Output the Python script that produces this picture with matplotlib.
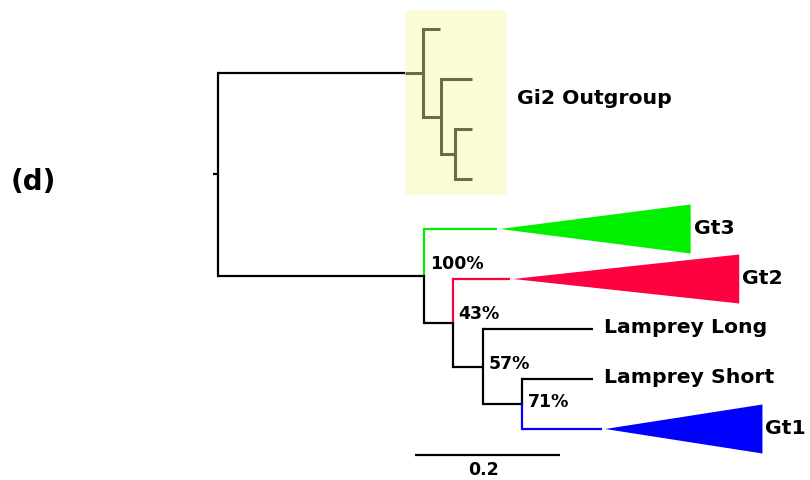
import matplotlib
matplotlib.use("Agg")
import matplotlib.pyplot as plt
from matplotlib.patches import Polygon, Rectangle

plt.rcParams['font.family'] = ['DejaVu Sans']

# ---- tree data: branch lengths (substitutions/site) ----
# Outgroup clade (Gi2): (leaf, (leaf, (leaf, leaf)))
root_stem = 0.007
outgroup_stem = 0.283
outgroup_inner = [0.025, 0.019]          # node A->B, B->C
outgroup_leaves = [0.023, 0.043, 0.023, 0.023]

# Ingroup
ingroup_stem = 0.284
ingroup_inner = [0.040, 0.041, 0.055]     # D->E, E->F, F->G
clade_names = ["Gt3", "Gt2", "Gt1"]
clade_stems = [0.101, 0.079, 0.110]
clade_depths = [0.263, 0.312, 0.217]
lamprey_names = ["Lamprey Long", "Lamprey Short"]
lamprey_lengths = [0.152, 0.097]
bootstrap = ["100%", "43%", "57%", "71%"]
outgroup_label = "Gi2 Outgroup"
scale_len = 0.2

GREEN, RED, BLUE = "#00f000", "#ff0040", "#0000ff"
OLIVE = "#6c6c45"
clade_colors = [GREEN, RED, BLUE]

fig = plt.figure(figsize=(8.1, 4.8), dpi=100)
ax = fig.add_axes([0, 0, 1, 1])
ax.set_xlim(-0.3007, 0.8166)
ax.set_ylim(9.02, -0.58)
ax.axis("off")

LW = 1.6
LABEL_FONT = dict(fontsize=14.7, fontweight="bold", va="center", ha="left")
SUPPORT_FONT = dict(fontsize=12.5, fontweight="bold", va="center", ha="left")

def hline(x0, x1, y, c="black", lw=LW, z=2):
    ax.plot([x0, x1], [y, y], color=c, lw=lw, solid_capstyle="butt", zorder=z)

def vline(x, y0, y1, c="black", lw=LW, z=2):
    ax.plot([x, x], [y0, y1], color=c, lw=lw, solid_capstyle="projecting", zorder=z)

# leaf rows run 0..8 from top to bottom
# ---- outgroup ----
x_root = 0.0
x_A = x_root + outgroup_stem
x_B = x_A + outgroup_inner[0]
x_C = x_B + outgroup_inner[1]
yC = (2 + 3) / 2
yB = (1 + yC) / 2
yA = (0 + yB) / 2

# ---- ingroup ----
x_D = x_root + ingroup_stem
x_E = x_D + ingroup_inner[0]
x_F = x_E + ingroup_inner[1]
x_G = x_F + ingroup_inner[2]
yG = (7 + 8) / 2
yF = (6 + yG) / 2
yE = (5 + yF) / 2
yD = (4 + yE) / 2
y_root = (yA + yD) / 2

# highlight box behind the outgroup
box_x0 = x_A - 0.025
ax.add_patch(Rectangle((box_x0, -0.38), 0.1407, 3.70, facecolor="#fdfcd9",
                       edgecolor="none", zorder=0))

# root
hline(x_root - root_stem, x_root, y_root)
vline(x_root, yA, yD)
hline(x_root, box_x0, yA)
hline(box_x0, x_A, yA, c=OLIVE, lw=2.2)

# outgroup lines
OLW = 2.2
vline(x_A, 0, yB, c=OLIVE, lw=OLW)
hline(x_A, x_A + outgroup_leaves[0], 0, c=OLIVE, lw=OLW)
hline(x_A, x_B, yB, c=OLIVE, lw=OLW)
vline(x_B, 1, yC, c=OLIVE, lw=OLW)
hline(x_B, x_B + outgroup_leaves[1], 1, c=OLIVE, lw=OLW)
hline(x_B, x_C, yC, c=OLIVE, lw=OLW)
vline(x_C, 2, 3, c=OLIVE, lw=OLW)
hline(x_C, x_C + outgroup_leaves[2], 2, c=OLIVE, lw=OLW)
hline(x_C, x_C + outgroup_leaves[3], 3, c=OLIVE, lw=OLW)
ax.text(x_B + outgroup_leaves[1] + 0.062, yB - 0.37, outgroup_label, **LABEL_FONT)

# ingroup
hline(x_root, x_D, yD)
# node D: Gt3 (green) above, rest below
vline(x_D, 4, yD, c=GREEN)
vline(x_D, yD, yE)
hline(x_D, x_E, yE)
# node E: Gt2 (red) above
vline(x_E, 5, yE, c=RED)
vline(x_E, yE, yF)
hline(x_E, x_F, yF)
# node F
vline(x_F, 6, yG)
hline(x_F, x_G, yG)
# node G: Gt1 (blue) below
vline(x_G, 7, yG)
vline(x_G, yG, 8, c=BLUE)

# collapsed clades
clade_nodes = [(x_D, 4), (x_E, 5), (x_G, 8)]
half_h = 0.49
for (xn, yl), name, stem, depth, col in zip(clade_nodes, clade_names,
                                             clade_stems, clade_depths, clade_colors):
    xs = xn + stem
    hline(xn, xs, yl, c=col)
    ax.add_patch(Polygon([(xs + 0.004, yl), (xs + 0.004 + depth, yl - half_h),
                          (xs + 0.004 + depth, yl + half_h)], closed=True,
                         facecolor=col, edgecolor="none", zorder=2))
    ax.text(xs + 0.004 + depth + 0.004, yl, name, **LABEL_FONT)

# lamprey leaves
for xn, yl, name, ln in zip([x_F, x_G], [6, 7], lamprey_names, lamprey_lengths):
    hline(xn, xn + ln, yl)
    ax.text(xn + ln + 0.015, yl - 0.03, name, **LABEL_FONT)

# bootstrap support
support_dy = [-0.24, -0.17, -0.05, -0.04]
for (xn, yn), txt, dy in zip([(x_D, yD), (x_E, yE), (x_F, yF), (x_G, yG)],
                             bootstrap, support_dy):
    ax.text(xn + 0.008, yn + dy, txt, **SUPPORT_FONT)

# scale bar
sb_x0 = 0.2717
ax.plot([sb_x0, sb_x0 + scale_len], [8.52, 8.52], color="black", lw=1.6,
        solid_capstyle="butt")
ax.text(sb_x0 + scale_len / 2 - 0.005, 8.82, f"{scale_len:g}",
        **{**SUPPORT_FONT, "ha": "center"})

# panel label
fig.text(0.013, 0.621, "(d)", fontsize=20, fontweight="bold", va="center", ha="left")

fig.savefig("out.png", dpi=100)
